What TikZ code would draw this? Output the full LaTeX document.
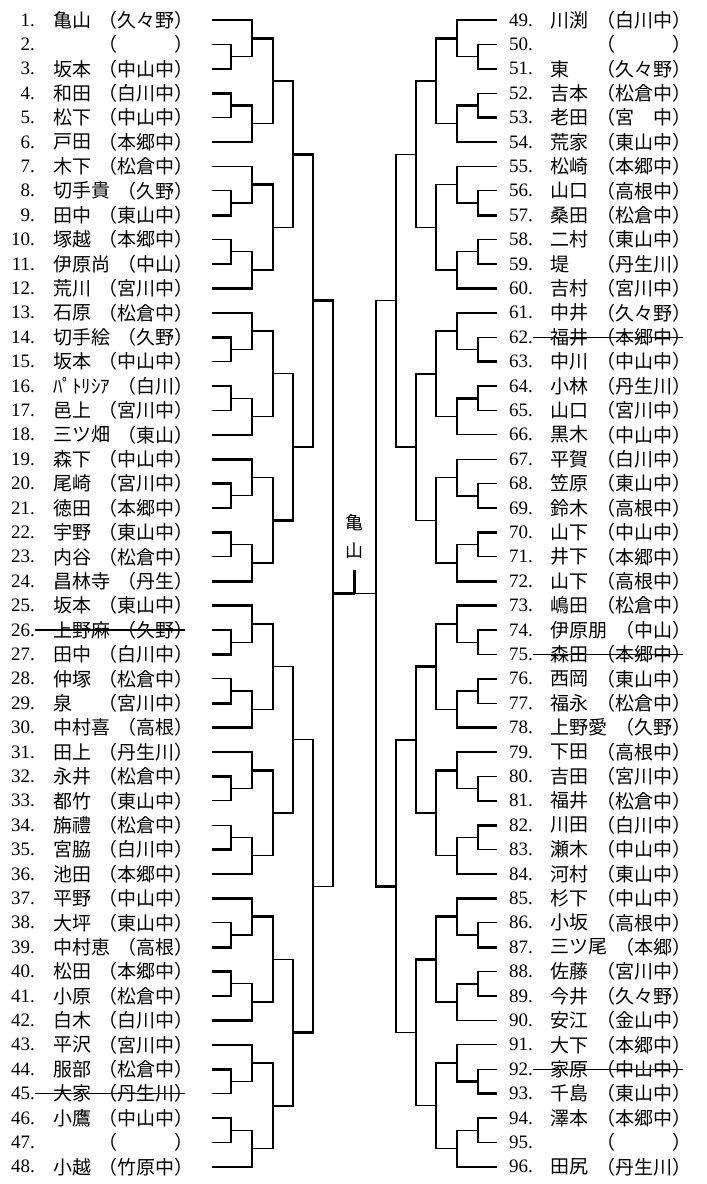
\documentclass[tikz,border=0pt]{standalone}
\usepackage{fontspec}
\setmainfont{Liberation Serif}
\newfontfamily\jp{Noto Sans CJK JP}
\usetikzlibrary{calc}

\begin{document}
\begin{tikzpicture}[
  x=1pt, y=-1pt,
  thk/.style={line width=2.6pt},
  thn/.style={line width=1.3pt},
  top1/.style={thk}, top0/.style={thn},
  bot1/.style={thn}, bot0/.style={thk},
  num/.style={inner sep=0pt, font=\fontsize{19}{19}\selectfont},
  nm/.style={inner sep=0pt, anchor=west, font=\jp\fontsize{19}{19}\selectfont},
  sch/.style={inner sep=0pt, anchor=east, font=\jp\fontsize{19}{19}\selectfont},
  lbl/.style={inner sep=0pt, align=center, font=\jp\fontsize{18}{28}\selectfont},
  strike/.style={line width=1.1pt}
]
\useasboundingbox (0,0) rectangle (707,1184);

% players, left half
\foreach \i/\nm/\sc in {1/亀山/久々野, 2/{}/{　　　}, 3/坂本/中山中, 4/和田/白川中,
  5/松下/中山中, 6/戸田/本郷中, 7/木下/松倉中, 8/切手貴/久野, 9/田中/東山中,
  10/塚越/本郷中, 11/伊原尚/中山, 12/荒川/宮川中, 13/石原/松倉中, 14/切手絵/久野,
  15/坂本/中山中, 16/ﾊﾟﾄﾘｼｱ/白川, 17/邑上/宮川中, 18/三ツ畑/東山, 19/森下/中山中,
  20/尾崎/宮川中, 21/徳田/本郷中, 22/宇野/東山中, 23/内谷/松倉中, 24/昌林寺/丹生,
  25/坂本/東山中, 26/上野麻/久野, 27/田中/白川中, 28/仲塚/松倉中, 29/泉/宮川中,
  30/中村喜/高根, 31/田上/丹生川, 32/永井/松倉中, 33/都竹/東山中, 34/旃禮/松倉中,
  35/宮脇/白川中, 36/池田/本郷中, 37/平野/中山中, 38/大坪/東山中, 39/中村恵/高根,
  40/松田/本郷中, 41/小原/松倉中, 42/白木/白川中, 43/平沢/宮川中, 44/服部/松倉中,
  45/大家/丹生川, 46/小鷹/中山中, 47/{}/{　　　}, 48/小越/竹原中} {
  \pgfmathsetmacro\yy{20+(\i-1)*24.4}
  \node[num, anchor=east] (nu\i) at (35,\yy) {\i.};
  \node[nm] (na\i) at (53,\yy) {\nm};
  \node[sch] (sc\i) at (194,\yy) {（\sc）};
}

% players, right half
\foreach \i/\nm/\sc in {49/川渕/白川中, 50/{}/{　　　}, 51/東/久々野, 52/吉本/松倉中,
  53/老田/宮　中, 54/荒家/東山中, 55/松崎/本郷中, 56/山口/高根中, 57/桑田/松倉中,
  58/二村/東山中, 59/堤/丹生川, 60/吉村/宮川中, 61/中井/久々野, 62/福井/本郷中,
  63/中川/中山中, 64/小林/丹生川, 65/山口/宮川中, 66/黒木/中山中, 67/平賀/白川中,
  68/笠原/東山中, 69/鈴木/高根中, 70/山下/中山中, 71/井下/本郷中, 72/山下/高根中,
  73/嶋田/松倉中, 74/伊原朋/中山, 75/森田/本郷中, 76/西岡/東山中, 77/福永/松倉中,
  78/上野愛/久野, 79/下田/高根中, 80/吉田/宮川中, 81/福井/松倉中, 82/川田/白川中,
  83/瀬木/中山中, 84/河村/東山中, 85/杉下/中山中, 86/小坂/高根中, 87/三ツ尾/本郷,
  88/佐藤/宮川中, 89/今井/久々野, 90/安江/金山中, 91/大下/本郷中, 92/家原/中山中,
  93/千島/東山中, 94/澤本/本郷中, 95/{}/{　　　}, 96/田尻/丹生川} {
  \pgfmathsetmacro\yy{20+(\i-49)*24.4}
  \node[num, anchor=west] (nu\i) at (509,\yy) {\i.};
  \node[nm] (na\i) at (550,\yy) {\nm};
  \node[sch] (sc\i) at (692,\yy) {（\sc）};
}

% withdrawn
\foreach \i in {26,45,62,75,92}
  \draw[strike] (nu\i.east) -- ([xshift=-9pt]sc\i.east);

% groups of six: pair, triple, pair, triple, group
\foreach \g/\sg/\s/\fa/\ft/\fb/\fu/\fg in {
  1/-1/1/0/1/1/1/1, 2/-1/7/0/0/0/0/1, 3/-1/13/1/1/1/0/1, 4/-1/19/1/1/1/0/0,
  5/-1/25/0/1/0/0/1, 6/-1/31/1/1/0/0/1, 7/-1/37/0/1/1/0/1, 8/-1/43/1/1/1/0/1,
  9/1/1/0/1/0/1/1, 10/1/7/0/0/0/0/0, 11/1/13/0/1/1/1/1, 12/1/19/0/0/1/0/0,
  13/1/25/1/1/1/0/1, 14/1/31/0/1/1/0/1, 15/1/37/0/1/0/1/1, 16/1/43/0/0/1/0/1} {
  \pgfmathsetmacro\xa{354.5+142.5*\sg}
  \pgfmathsetmacro\xb{354.5+123.5*\sg}
  \pgfmathsetmacro\xc{354.5+102.5*\sg}
  \pgfmathsetmacro\xd{354.5+81.5*\sg}
  \pgfmathsetmacro\ya{20+(\s-1)*24.4}
  \pgfmathtruncatemacro\na{\s+24*(\sg+1)}
  \pgfmathtruncatemacro\nb{\na+1}
  \pgfmathtruncatemacro\nc{\na+2}
  \pgfmathtruncatemacro\nd{\na+3}
  \pgfmathtruncatemacro\ne{\na+4}
  \pgfmathtruncatemacro\nf{\na+5}
  \foreach \n [count=\k from 0] in {\na,\nb,\nc,\nd,\ne,\nf}
    \coordinate (p\n) at (\xa,\ya+\k*24.4);
  \coordinate (pa\g) at (\xb,\ya+36.6);
  \draw[top\fa] (p\nb) -| (pa\g);
  \draw[bot\fa] (p\nc) -| (pa\g);
  \coordinate (ta\g) at (\xc,\ya+18.3);
  \draw[top\ft] (p\na) -| (ta\g);
  \draw[bot\ft] (pa\g) -| (ta\g);
  \coordinate (pb\g) at (\xb,\ya+85.4);
  \draw[top\fb] (p\nd) -| (pb\g);
  \draw[bot\fb] (p\ne) -| (pb\g);
  \coordinate (tb\g) at (\xc,\ya+103.7);
  \draw[top\fu] (pb\g) -| (tb\g);
  \draw[bot\fu] (p\nf) -| (tb\g);
  \coordinate (gr\g) at (\xd,\ya+61);
  \draw[top\fg] (ta\g) -| (gr\g);
  \draw[bot\fg] (tb\g) -| (gr\g);
}

% later rounds
\foreach \h/\ga/\gb/\sg/\f in {1/1/2/-1/1, 2/3/4/-1/0, 3/5/6/-1/0, 4/7/8/-1/0,
  5/9/10/1/1, 6/11/12/1/1, 7/13/14/1/1, 8/15/16/1/1} {
  \coordinate (hh\h) at ($(gr\ga)!.5!(gr\gb)+(-20*\sg,0)$);
  \draw[top\f] (gr\ga) -| (hh\h);
  \draw[bot\f] (gr\gb) -| (hh\h);
}
\foreach \q/\ha/\hb/\sg/\f in {1/1/2/-1/1, 2/3/4/-1/0, 3/5/6/1/0, 4/7/8/1/1} {
  \coordinate (qq\q) at ($(hh\ha)!.5!(hh\hb)+(-20*\sg,0)$);
  \draw[top\f] (hh\ha) -| (qq\q);
  \draw[bot\f] (hh\hb) -| (qq\q);
}
\foreach \t/\qa/\qb/\sg/\f in {1/1/2/-1/1, 2/3/4/1/0} {
  \coordinate (ss\t) at ($(qq\qa)!.5!(qq\qb)+(-20*\sg,0)$);
  \draw[top\f] (qq\qa) -| (ss\t);
  \draw[bot\f] (qq\qb) -| (ss\t);
}

% final
\coordinate (fin) at ($(ss1)!.5!(ss2)$);
\coordinate (champ) at ($(fin)+(0,-23)$);
\draw[thk] (ss1) -- (fin);
\draw[thn] (fin) -- (ss2);
\draw[thk] (fin) -- (champ);
\node[lbl] (kame) at ($(champ)+(0,-34)$) {亀\\山};

\end{tikzpicture}
\end{document}
